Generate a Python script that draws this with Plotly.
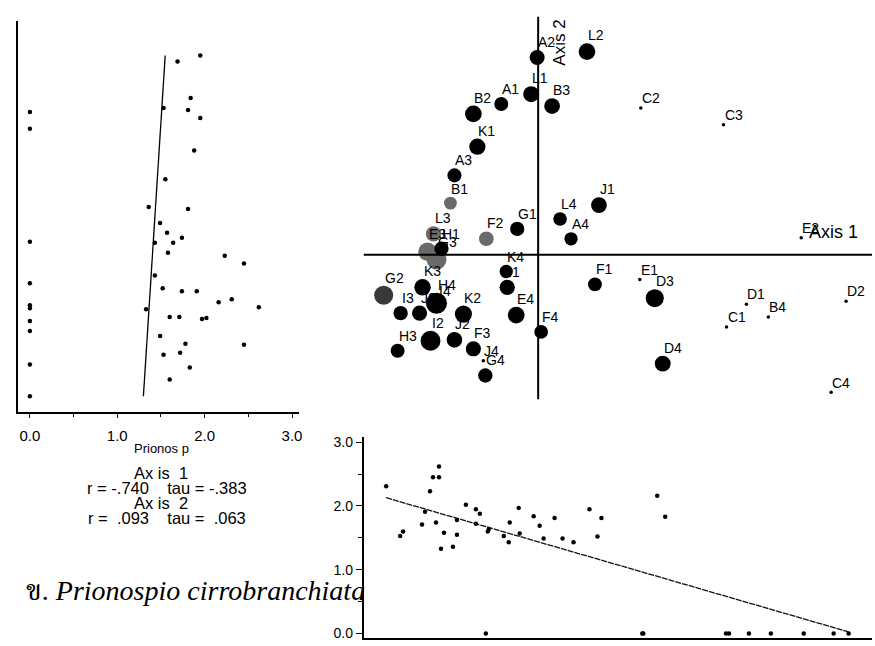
import plotly.graph_objects as go

# ---------------------------------------------------------------
# Ordination of sampling stations with Prionospio abundance
# ---------------------------------------------------------------
W, H = 875, 646

stations = ["A1", "A2", "A3", "A4", "B1", "B2", "B3", "B4",
            "C1", "C2", "C3", "C4", "D1", "D2", "D3", "D4",
            "E1", "E2", "E3", "E4", "F1", "F2", "F3", "F4",
            "G1", "G2", "G3", "G4", "H1", "H3", "H4",
            "I1", "I2", "I3", "I4", "J1", "J2", "J3", "J4",
            "K1", "K2", "K3", "K4", "L1", "L2", "L3", "L4"]

axis1_score = [-0.37, -0.01, -0.84, 0.33, -0.88, -0.65, 0.14, 2.31,
               1.89, 1.03, 1.86, 2.94, 2.09, 3.09, 1.17, 1.25,
               1.02, 2.64, -1.11, -0.22, 0.57, -0.52, -0.65, 0.03,
               -0.21, -1.55, -1.02, -0.53, -0.97, -1.41, -1.02,
               -0.31, -1.08, -1.38, -1.00, 0.61, -0.84, -1.19, -0.55,
               -0.61, -0.75, -1.16, -0.32, -0.07, 0.49, -1.05, 0.22]

axis2_score = [1.52, 1.99, 0.80, 0.16, 0.52, 1.42, 1.50, -0.63,
               -0.73, 1.48, 1.31, -1.39, -0.50, -0.47, -0.44, -1.10,
               -0.25, 0.17, 0.03, -0.61, -0.30, 0.16, -0.95, -0.78,
               0.26, -0.41, -0.05, -1.22, 0.06, -0.97, -0.49,
               -0.33, -0.87, -0.59, -0.51, 0.50, -0.86, -0.59, -1.07,
               1.09, -0.60, -0.33, -0.17, 1.62, 2.05, 0.21, 0.36]

# log-transformed abundance of Prionospio at each station
prionosp = [1.53, 1.69, 1.55, 1.43, 1.36, 1.95, 1.81, 0.00,
            0.00, 0.00, 0.00, 0.00, 0.00, 0.00, 2.16, 1.83,
            0.00, 0.00, 2.23, 1.97, 1.52, 1.64, 1.72, 1.49,
            1.57, 2.31, 2.45, 1.60, 1.58, 1.53, 2.62,
            1.74, 2.45, 1.60, 1.33, 1.81, 1.78, 1.71, 0.00,
            1.88, 2.02, 1.91, 1.43, 1.84, 1.95, 1.74, 1.49]

# correlations of Prionospio with the ordination axes
r_axis1, tau_axis1 = -0.740, -0.383
r_axis2, tau_axis2 = 0.093, 0.063

# fitted lines: abundance vs axis 1 (bottom), abundance vs axis 2 (left)
fit1_intercept, fit1_slope = 1.427, -0.453
fit2_intercept, fit2_slope = 1.400, 0.0725

x_ticks = [0.0, 1.0, 2.0, 3.0]
y_ticks = [0.0, 1.0, 2.0, 3.0]

# stations whose symbols print in a lighter tone
light_stations = {"B1", "F2", "L3", "E3", "G3"}
mid_stations = {"G2"}

NB = "\u00a0"


def px_x(p):
    return p / W


def px_y(p):
    return 1 - p / H


def sym_size(a):
    return 3.5 if a <= 0 else 6.5 * a + 4


def coef(v):
    # ".740" style with a leading minus for negatives
    s = f"{abs(v):.3f}".lstrip("0")
    return ("-" if v < 0 else NB) + s


sizes = [sym_size(a) for a in prionosp]
colors = ["#6a6a6a" if s in light_stations else
          ("#383838" if s in mid_stations else "black") for s in stations]

fig = go.Figure()

# --- left panel: abundance (x) against axis 2 score (y)
fig.add_trace(go.Scatter(
    x=prionosp, y=axis2_score, mode="markers",
    marker=dict(size=4.5, color="black", opacity=1),
    xaxis="x", yaxis="y", hoverinfo="skip", showlegend=False))
s2_lo, s2_hi = min(axis2_score), max(axis2_score)
fig.add_trace(go.Scatter(
    x=[fit2_intercept + fit2_slope * s2_lo, fit2_intercept + fit2_slope * s2_hi],
    y=[s2_lo, s2_hi], mode="lines",
    line=dict(color="black", width=1.3),
    xaxis="x", yaxis="y", hoverinfo="skip", showlegend=False))

# --- bottom panel: axis 1 score (x) against abundance (y)
fig.add_trace(go.Scatter(
    x=axis1_score, y=prionosp, mode="markers",
    marker=dict(size=4.5, color="black", opacity=1),
    xaxis="x2", yaxis="y2", hoverinfo="skip", showlegend=False))
s1_lo, s1_hi = min(axis1_score), max(axis1_score)
fig.add_trace(go.Scatter(
    x=[s1_lo, s1_hi],
    y=[fit1_intercept + fit1_slope * s1_lo, fit1_intercept + fit1_slope * s1_hi],
    mode="lines", line=dict(color="#111111", width=1.3, dash="6px,1px"),
    xaxis="x2", yaxis="y2", hoverinfo="skip", showlegend=False))

# --- main ordination
fig.add_trace(go.Scatter(
    x=axis1_score, y=axis2_score, mode="markers",
    marker=dict(size=sizes, color=colors, opacity=1, line=dict(width=0)),
    xaxis="x3", yaxis="y3", hoverinfo="skip", showlegend=False))

annotations = []
for name, sx, sy, sz in zip(stations, axis1_score, axis2_score, sizes):
    annotations.append(dict(
        x=sx, y=sy, xref="x3", yref="y3", text=name, showarrow=False,
        xanchor="left", yanchor="bottom", xshift=-1, yshift=sz / 2 - 2,
        font=dict(family="Arial", size=14, color="black")))

# axis lines of the ordination
ord_shapes = [
    dict(type="line", xref="x3", yref="y3", x0=-1.75, x1=3.4, y0=0, y1=0,
         line=dict(color="black", width=2)),
    dict(type="line", xref="x3", yref="y3", x0=0, x1=0, y0=-1.46, y1=2.40,
         line=dict(color="black", width=2)),
]


def paper_text(x, y, text, size, **kw):
    d = dict(x=px_x(x), y=px_y(y), xref="paper", yref="paper", text=text,
             showarrow=False, xanchor="center", yanchor="middle",
             font=dict(family="Arial", size=size, color="black"))
    d.update(kw)
    return d


stat_font = 16.5
annotations += [
    paper_text(562, 40, "Axis 2", 17, textangle=-90),
    paper_text(836, 231, "Axis 1", 18),
    paper_text(162, 450, "Prionos" + NB + "p", 13),
    paper_text(162, 474, "Ax" + NB + "is" + NB + NB + "1", stat_font),
    paper_text(168, 490,
               "r" + NB + "=" + NB + coef(r_axis1) + NB * 4 + "tau" + NB + "="
               + NB + coef(tau_axis1), stat_font),
    paper_text(162, 505, "Ax" + NB + "is" + NB + NB + "2", stat_font),
    paper_text(168, 520,
               "r" + NB + "=" + NB + coef(r_axis2) + NB * 4 + "tau" + NB + "="
               + NB + coef(tau_axis2), stat_font),
    paper_text(24, 593, "ข. <i>Prionospio cirrobranchiata</i>", 28,
               xanchor="left",
               font=dict(family="Liberation Serif, Noto Serif Thai, serif",
                         size=28, color="black")),
]

tick_font = dict(family="Arial", size=14, color="black")

# pixel rows of the bottom panel: zero line and 3.0
y2_zero_px, y2_scale = 636.5, 64.4

fig.update_layout(
    width=W, height=H, margin=dict(l=0, r=0, t=0, b=0),
    paper_bgcolor="white", plot_bgcolor="rgba(0,0,0,0)",
    showlegend=False,
    # left panel
    xaxis=dict(domain=[px_x(18), px_x(300)],
               range=[(18 - 30) / 87.67, (300 - 30) / 87.67],
               anchor="y", showline=True, linecolor="black", linewidth=2,
               ticks="outside", ticklen=4, tickcolor="black",
               tickvals=x_ticks, ticktext=[f"{v:.1f}" for v in x_ticks],
               minor=dict(dtick=0.5, ticks="outside", ticklen=3, tickcolor="black"),
               ticklabelstandoff=5, tickfont=dict(family="Arial", size=15, color="black"),
               showgrid=False, zeroline=False, fixedrange=True),
    yaxis=dict(domain=[px_y(413), px_y(18)],
               range=[(258 - 413) / 100, (258 - 18) / 100],
               anchor="x", showline=True, linecolor="black", linewidth=2,
               showticklabels=False, ticks="",
               showgrid=False, zeroline=False),
    # bottom panel
    xaxis2=dict(domain=[px_x(365), 1],
                range=[(365 - 542.5) / 100, (875 - 542.5) / 100],
                anchor="y2", showline=True, linecolor="black", linewidth=2,
                showticklabels=False, ticks="",
                showgrid=False, zeroline=False),
    yaxis2=dict(domain=[px_y(641), px_y(438)],
                range=[(y2_zero_px - 641) / y2_scale, (y2_zero_px - 438) / y2_scale],
                anchor="x2", showline=True, linecolor="black", linewidth=2,
                ticks="outside", ticklen=6, tickcolor="black",
                tickvals=y_ticks, ticktext=[f"{v:.1f}" for v in y_ticks],
                minor=dict(dtick=0.5, ticks="outside", ticklen=4, tickcolor="black"),
                tickfont=tick_font,
                showgrid=False, zeroline=False),
    # ordination
    xaxis3=dict(domain=[0, 1], range=[-5.40, 3.35], anchor="y3", visible=False),
    yaxis3=dict(domain=[0, 1], range=[(254 - 646) / 100, 254 / 100],
                anchor="x3", visible=False),
    shapes=ord_shapes,
    annotations=annotations,
)

fig.write_html("out.html")
